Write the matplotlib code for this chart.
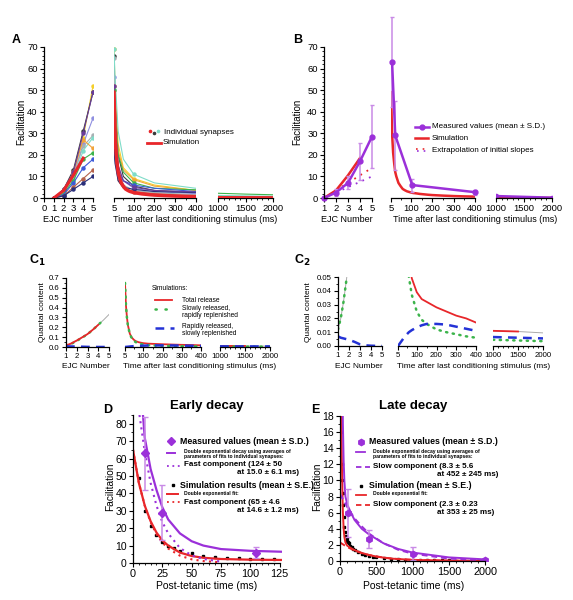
import matplotlib
matplotlib.use('Agg')
import matplotlib.pyplot as plt
from matplotlib.ticker import MultipleLocator, FixedLocator

plt.rcParams['font.family'] = ['Liberation Sans', 'DejaVu Sans']

W, H = 573, 600

# ---------------- data ----------------
# panel A: individual synapses
ejc_num = [1, 2, 3, 4, 5]
decay_t = [5, 10, 25, 50, 100, 200, 400]
late_t = [1000, 1500, 2000]
syn_colors = ['#f5cf2a', '#3a3a3a', '#8f8fe0', '#a7b0b3', '#7fdcc8', '#f2a33a',
              '#3cb44b', '#3d5bd9', '#b5634b', '#2a2f7a', '#6a3d9a']
syn_ejc = [[0, 3, 12, 28, 52], [0, 4, 13, 31, 49], [0, 2, 10, 25, 37],
           [0, 3, 11, 24, 29], [0, 2, 9, 22, 28], [0, 3, 12, 27, 23],
           [0, 2, 8, 18, 21], [0, 1.5, 7, 14, 18], [0, 1, 5, 9, 13],
           [0, 1, 4, 7, 10], [0, 4, 12, 30, 49]]
syn_decay = [[69, 52, 25, 14, 9, 6, 3.5], [66, 45, 20, 10, 5.5, 3.5, 2.5],
             [56, 38, 15, 8, 4.5, 3, 2], [65, 40, 14, 6, 3.5, 2.5, 1.5],
             [69, 56, 31, 18, 11, 7, 4.5], [52, 42, 22, 13, 8.5, 5.5, 3.5],
             [50, 40, 20, 12, 7, 4.5, 3.8], [29, 22, 12, 8, 6, 4.5, 3],
             [25, 18, 8, 4.5, 3, 2, 1], [22, 16, 8, 5, 4, 3, 2.5],
             [52, 35, 15, 8, 5, 3.5, 2.8]]
syn_late = [[0.8, 0.6, 0.5], [0.6, 0.5, 0.4], [0.5, 0.4, 0.3], [0.4, 0.3, 0.3],
            [1.2, 1.0, 0.8], [0.7, 0.5, 0.4], [2.2, 1.8, 1.5], [0.5, 0.4, 0.3],
            [0.3, 0.2, 0.2], [0.4, 0.3, 0.3], [0.4, 0.3, 0.2]]

# simulation (facilitation)
sim_ejc_x = [1, 2, 3, 4]
sim_ejc_y = [0, 3.5, 10.5, 18.5]
sim_t = [5, 10, 15, 20, 25, 30, 35, 40, 50, 60, 70, 80, 90, 100, 110, 120, 140, 160,
         180, 200, 250, 300, 350, 400, 450, 500, 600, 700, 800, 900, 1000, 1100,
         1200, 1300, 1400, 1500, 1600, 1700, 1800, 1900, 2000]
sim_y = [49, 30, 21, 16, 12, 10, 8.5, 7, 5.5, 4.2, 3.6, 3.1, 2.8, 2.5, 2.3, 2.2, 1.9,
         1.7, 1.5, 1.35, 1.1, 0.9, 0.75, 0.65, 0.55, 0.45, 0.35, 0.28, 0.22, 0.18,
         0.15, 0.12, 0.10, 0.09, 0.08, 0.07, 0.06, 0.05, 0.05, 0.04, 0.04]

# measured values (mean +- S.D.)
meas_ejc_y = [0, 2.5, 7, 17, 28.5]
meas_ejc_sd = [0, 1.5, 3, 8.5, 14.5]
meas_t = [10, 25, 105, 400, 1000, 2000]
meas_y = [63, 29, 6, 2.7, 0.9, 0.15]
meas_sd = [21, 16, 3, 1.1, 0.8, 0.1]

# extrapolation of initial slopes (panel B)
extrap_x = [2, 3, 4, 5]
extrap_sim = [3.5, 7, 10.5, 14]
extrap_meas = [2.5, 5, 7.5, 10]

# fits (panels D and E)
pfit_t = [8.5, 10, 15, 20, 25, 30, 40, 50, 60, 75, 100, 125, 150, 200, 300, 400, 600,
          800, 1000, 1500, 2000]
pfit_y = [85, 72, 54, 42, 32, 25, 17, 12.5, 10, 8, 7, 6.5, 6.0, 5.1, 4.0, 3.3, 2.2,
          1.5, 1.05, 0.45, 0.2]
pfast_t = [5.5, 10, 15, 20, 25, 30, 40, 50, 60, 75]
pfast_y = [85, 64, 46, 33, 23.5, 17, 8.6, 4.4, 2.3, 0.8]
pslow_t = [0, 100, 200, 300, 400, 600, 800, 1000, 1500, 2000]
pslow_y = [8.3, 6.7, 5.3, 4.3, 3.4, 2.2, 1.4, 0.91, 0.30, 0.10]
rfit_t = [0, 5, 10, 15, 20, 25, 30, 40, 50, 60, 75, 100, 125, 150, 200, 300, 400, 500,
          700, 1000, 1500, 2000]
rfit_y = [65, 46, 33, 24, 17.5, 13, 10, 6, 4, 3, 2.3, 1.9, 1.75, 1.6, 1.35, 1.0, 0.75,
          0.55, 0.3, 0.14, 0.05, 0.02]
rfast_t = [0, 5, 10, 15, 20, 25, 30, 40, 50, 60, 75]
rfast_y = [65, 46, 33, 23.5, 16.5, 11.8, 8.3, 4.2, 2.1, 1.1, 0.4]
rslow_t = [0, 100, 200, 300, 400, 600, 800, 1000, 1500, 2000]
rslow_y = [2.3, 1.73, 1.3, 0.98, 0.74, 0.42, 0.24, 0.14, 0.03, 0.008]

# panel C: quantal content
qc_ejc = [1, 1.25, 1.5, 1.75, 2, 2.5, 3, 3.5, 4, 4.5, 5]
qc_total_ejc = [0.019, 0.026, 0.037, 0.052, 0.066, 0.098, 0.131, 0.176, 0.225, 0.275, 0.33]
qc_slow_ejc = [0.012, 0.02, 0.032, 0.047, 0.062, 0.095, 0.13, 0.175, 0.225, 0.275, 0.33]
qc_rapid_ejc = [0.007, 0.006, 0.0055, 0.005, 0.0045, 0.003, 0.0012, 0.0005, 0.0002, 0.0001, 0.0]
qc_t = [5, 10, 15, 20, 30, 40, 50, 60, 75, 100, 125, 150, 200, 250, 300, 350, 400]
qc_total = [0.65, 0.421, 0.302, 0.223, 0.135, 0.097, 0.075, 0.06, 0.049, 0.039, 0.034,
            0.032, 0.028, 0.025, 0.022, 0.020, 0.017]
qc_slow = [0.65, 0.42, 0.30, 0.22, 0.13, 0.09, 0.066, 0.05, 0.037, 0.025, 0.019, 0.016,
           0.012, 0.010, 0.0085, 0.007, 0.006]
qc_rapid = [0.0, 0.001, 0.002, 0.003, 0.005, 0.007, 0.0085, 0.010, 0.0115, 0.0135, 0.015,
            0.016, 0.016, 0.0155, 0.014, 0.0125, 0.011]
qc_late_t = [1000, 1500, 2000]
qc_total_late = [0.011, 0.0105, 0.0095]
qc_slow_late = [0.0045, 0.004, 0.0035]
qc_rapid_late = [0.0065, 0.006, 0.0055]

RED = '#e8262a'
PURPLE = '#9b30d9'
PURPLE_ERR = '#c98ae6'
GREEN = '#3cb44b'
BLUE = '#2432d6'

fig = plt.figure(figsize=(W / 100, H / 100), dpi=100)


def add_ax(l, t, r, b):
    return fig.add_axes([l / W, 1 - b / H, (r - l) / W, (b - t) / H])


def style(ax, xlim, ylim, ysize=6.5, xsize=6.5, left=True):
    ax.set_xlim(*xlim)
    ax.set_ylim(*ylim)
    ax.patch.set_alpha(0)
    for s in ['top', 'right']:
        ax.spines[s].set_visible(False)
    ax.spines['bottom'].set_linewidth(0.9)
    ax.tick_params(which='major', length=3, width=0.8, labelsize=xsize, pad=1.5)
    ax.tick_params(which='minor', length=1.6, width=0.6)
    ax.tick_params(axis='y', labelsize=ysize)
    if not left:
        ax.spines['left'].set_visible(False)
        ax.set_yticks([])
    else:
        ax.spines['left'].set_linewidth(0.9)


def segs(lefts, top, bottom, ylim, ymaj, ymin, fs):
    a1 = add_ax(lefts[0][0], top, lefts[0][1], bottom)
    a2 = add_ax(lefts[1][0], top, lefts[1][1], bottom)
    a3 = add_ax(lefts[2][0], top, lefts[2][1], bottom)
    style(a1, (lefts[0][2], 5), ylim, fs, fs)
    a1.set_xticks(range(lefts[0][2], 6))
    a1.yaxis.set_major_locator(MultipleLocator(ymaj))
    a1.yaxis.set_minor_locator(MultipleLocator(ymin))
    style(a2, (5, 400), ylim, fs, fs, left=False)
    a2.set_xticks([5, 100, 200, 300, 400])
    a2.xaxis.set_minor_locator(FixedLocator([50, 150, 250, 350]))
    style(a3, (1000, 2000), ylim, fs, fs, left=False)
    a3.set_xticks([1000, 1500, 2000])
    a3.xaxis.set_minor_locator(MultipleLocator(100))
    return a1, a2, a3


def unclip(container):
    # error bars may run past the top of the axes, as in the original figure
    for art in container.get_children():
        art.set_clip_on(False)


ov = fig.add_axes([0, 0, 1, 1])
ov.set_xlim(0, W)
ov.set_ylim(H, 0)
ov.axis('off')
ov.set_zorder(20)

# ---------------- panel A ----------------
a1, a2, a3 = segs([(44, 93, 0), (114, 196), (218, 273)], 47, 198, (0, 70), 10, 2, 6.8)
for c, e, d, l in zip(syn_colors, syn_ejc, syn_decay, syn_late):
    a1.plot(ejc_num, e, color=c, lw=0.8, marker='o', ms=2.2)
    a2.plot(decay_t, d, color=c, lw=0.8, marker='o', ms=2.2, markevery=[0, 4])
    a3.plot(late_t, l, color=c, lw=0.8)
a1.plot(sim_ejc_x, sim_ejc_y, color=RED, lw=2.2, zorder=5)
a2.plot(sim_t, sim_y, color=RED, lw=2.5, zorder=5)
a3.plot(sim_t, sim_y, color=RED, lw=2.5, zorder=5)

# ---------------- panel B ----------------
b1, b2, b3 = segs([(324, 372, 1), (391, 475), (496, 552)], 47, 198, (0, 70), 10, 2, 6.8)
b1.plot(extrap_x, extrap_sim, color=RED, lw=1.3, ls=(0, (1, 3)))
b1.plot(extrap_x, extrap_meas, color=PURPLE, lw=1.3, ls=(0, (1, 3)))
b1.plot(sim_ejc_x, sim_ejc_y, color=RED, lw=1.8)
eb = b1.errorbar(ejc_num, meas_ejc_y, yerr=meas_ejc_sd, color=PURPLE, ecolor=PURPLE_ERR,
                 elinewidth=1.1, capsize=1.5, lw=1.8, marker='o', ms=3.5)
unclip(eb)
b2.plot(sim_t, sim_y, color=RED, lw=1.8)
eb = b2.errorbar(meas_t[:4], meas_y[:4], yerr=meas_sd[:4], color=PURPLE, ecolor=PURPLE_ERR,
                 elinewidth=1.1, capsize=1.5, lw=1.8, marker='o', ms=3.5)
unclip(eb)
b3.plot(sim_t, sim_y, color=RED, lw=1.8)
b3.plot(meas_t[4:], meas_y[4:], color=PURPLE, lw=1.8, marker='o', ms=3)


# ---------------- panel C1 / C2 ----------------
def c_panel(axs, full):
    c1, c2, c3 = axs
    dot = (0, (0.5, 2.2))
    dash = (0, (3.5, 2.5))
    if full:
        c1.plot(qc_ejc, qc_slow_ejc, color='#aaaaaa', lw=0.7)
        c1.plot(qc_ejc[:10], qc_slow_ejc[:10], color=GREEN, lw=1.8, ls=dot, dash_capstyle='round')
        c1.plot(qc_ejc[:9], qc_total_ejc[:9], color=RED, lw=1.3)
    else:
        c1.plot(qc_ejc[:5], qc_slow_ejc[:5], color='#aaaaaa', lw=0.7)
        c1.plot(qc_ejc[:4], qc_slow_ejc[:4], color=GREEN, lw=1.8, ls=dot, dash_capstyle='round')
    c1.plot(qc_ejc, qc_rapid_ejc, color=BLUE, lw=1.8, ls=dash)
    c2.plot(qc_t, qc_total, color=RED, lw=1.3)
    c2.plot(qc_t, qc_slow, color=GREEN, lw=1.8, ls=dot, dash_capstyle='round')
    c2.plot(qc_t, qc_rapid, color=BLUE, lw=1.8, ls=dash)
    c3.plot(qc_late_t, qc_total_late, color='#aaaaaa', lw=0.7)
    c3.plot(qc_late_t[:2], qc_total_late[:2], color=RED, lw=1.3)
    c3.plot(qc_late_t, qc_slow_late, color=GREEN, lw=1.8, ls=dot, dash_capstyle='round')
    c3.plot(qc_late_t, qc_rapid_late, color=BLUE, lw=1.8, ls=dash)


cA = segs([(66, 109, 1), (125, 201), (220, 270)], 278, 347, (0, 0.7), 0.1, 0.05, 5.6)
cA[0].yaxis.set_major_formatter(plt.FormatStrFormatter('%.1f'))
c_panel(cA, True)
cB = segs([(338, 382, 1), (398, 476), (493, 543)], 277, 346, (0, 0.05), 0.01, 0.005, 5.6)
cB[0].yaxis.set_major_formatter(plt.FormatStrFormatter('%.2f'))
c_panel(cB, False)

# ---------------- panel D ----------------
d = add_ax(133, 415, 282, 563)
style(d, (0, 127), (0, 85), 7.5, 7.8)
d.spines['bottom'].set_bounds(0, 125)
d.set_xticks([0, 25, 50, 75, 100, 125])
d.xaxis.set_minor_locator(MultipleLocator(5))
d.yaxis.set_major_locator(FixedLocator([0, 10, 20, 30, 40, 50, 60, 70, 80]))
d.yaxis.set_minor_locator(MultipleLocator(5))
d.plot(sim_t, sim_y, 's', color='black', ms=2)
d.plot(rfast_t, rfast_y, color=RED, lw=1.5, ls=(0, (1, 2)))
d.plot(rfit_t, rfit_y, color=RED, lw=1.6)
d.plot(pfast_t, pfast_y, color=PURPLE, lw=1.5, ls=(0, (1, 2)))
d.plot(pfit_t, pfit_y, color=PURPLE, lw=1.6)
d.errorbar(meas_t[:3], meas_y[:3], yerr=meas_sd[:3], fmt='D', color=PURPLE,
           ecolor=PURPLE_ERR, elinewidth=1.1, capsize=2, ms=4.5)

# ---------------- panel E ----------------
e = add_ax(340, 416, 488, 561)
style(e, (0, 2040), (0, 18), 7.5, 7.8)
e.spines['bottom'].set_bounds(0, 2000)
e.set_xticks([0, 500, 1000, 1500, 2000])
e.xaxis.set_minor_locator(MultipleLocator(100))
e.yaxis.set_major_locator(MultipleLocator(2))
e.yaxis.set_minor_locator(MultipleLocator(1))
e.plot(sim_t, sim_y, 's', color='black', ms=2)
e.plot(rslow_t, rslow_y, color=RED, lw=1.4, ls=(0, (3, 2)))
e.plot(rfit_t, rfit_y, color=RED, lw=1.4)
e.plot(pslow_t, pslow_y, color=PURPLE, lw=1.4, ls=(0, (3, 2)))
e.plot(pfit_t, pfit_y, color=PURPLE, lw=1.4)
e.errorbar(meas_t[2:], meas_y[2:], yerr=meas_sd[2:], fmt='h', color=PURPLE,
           ecolor=PURPLE_ERR, elinewidth=1.1, capsize=2, ms=4.5)


# ---------------- text and legends ----------------
def T(x, y, s, size=6.5, **kw):
    kw.setdefault('va', 'center')
    ov.text(x, y, s, fontsize=size, **kw)


def L(x0, x1, y, **kw):
    ov.plot([x0, x1], [y, y], **kw)


# panel letters
T(16, 40, 'A', 9, fontweight='bold', ha='center')
T(298, 40, 'B', 9, fontweight='bold', ha='center')
T(37, 260, r'C$_\mathbf{1}$', 9, fontweight='bold', ha='center')
T(302, 260, r'C$_\mathbf{2}$', 9, fontweight='bold', ha='center')
T(108, 410, 'D', 9, fontweight='bold', ha='center')
T(315, 410, 'E', 9, fontweight='bold', ha='center')

# axis labels
T(21, 122, 'Facilitation', 7, rotation=90, ha='center')
T(297, 122, 'Facilitation', 7, rotation=90, ha='center')
T(42, 312, 'Quantal content', 6, rotation=90, ha='center')
T(309, 312, 'Quantal content', 6, rotation=90, ha='center')
T(110, 487, 'Facilitation', 7.3, rotation=90, ha='center')
T(317, 487, 'Facilitation', 7.3, rotation=90, ha='center')
T(68, 220, 'EJC number', 6.5, ha='center')
T(195, 220, 'Time after last conditioning stimulus (ms)', 6.5, ha='center')
T(347, 220, 'EJC Number', 6.5, ha='center')
T(475, 220, 'Time after last conditioning stimulus (ms)', 6.5, ha='center')
T(86, 366, 'EJC Number', 6, ha='center')
T(200, 366, 'Time after last conditioning stimulus (ms)', 6, ha='center')
T(359, 366, 'EJC Number', 6, ha='center')
T(474, 366, 'Time after last conditioning stimulus (ms)', 6, ha='center')
T(207, 586, 'Post-tetanic time (ms)', 7.5, ha='center')
T(414, 586, 'Post-tetanic time (ms)', 7.5, ha='center')
T(207, 406, 'Early decay', 9.5, fontweight='bold', ha='center')
T(413, 406, 'Late decay', 9.5, fontweight='bold', ha='center')

# legend A
for dx, dy, c in [(0, -1, RED), (4, 1, '#3a3a3a'), (8, -1, '#7fdcc8')]:
    ov.plot(150 + dx, 132 + dy, 'o', color=c, ms=1.6)
T(164, 132.5, 'Individual synapses', 5.8)
L(147, 161, 143, color=RED, lw=2)
T(163, 143, 'Simulation', 5.8)

# legend B
L(415, 429, 127, color=PURPLE, lw=1.8)
ov.plot(422, 127, 'o', color=PURPLE, ms=3.5)
T(432, 127, 'Measured values (mean \u00b1 S.D.)', 5.8)
L(415, 428, 138, color=RED, lw=1.8)
T(432, 138, 'Simulation', 5.8)
L(416, 428, 149, color=RED, lw=1.2, ls=(0, (1, 3)))
L(417, 429, 151, color=PURPLE, lw=1.2, ls=(0, (1, 3)))
T(432, 150, 'Extrapolation of initial slopes', 5.8)

# legend C
T(170, 289, 'Simulations:', 4.8, ha='center')
L(155, 172, 300, color=RED, lw=1.3)
T(182, 300, 'Total release', 4.8)
L(155, 174, 309, color=GREEN, lw=1.8, ls=(0, (0.5, 3.5)), dash_capstyle='round')
T(182, 312, 'Slowly released,\nrapidly replenished', 4.8, linespacing=1.1)
L(155, 174, 328, color=BLUE, lw=1.8, ls=(0, (3.5, 2.5)))
T(182, 330, 'Rapidly released,\nslowly replenished', 4.8, linespacing=1.1)

# legend D
ov.plot(171, 441, 'D', color=PURPLE, ms=4)
T(180, 441, 'Measured values (mean \u00b1 S.D.)', 6.3, fontweight='bold')
L(167, 175, 453, color=PURPLE, lw=1.4)
T(184, 454, 'Double exponential decay using averages of\nparameters of fits to individual synapses:',
  3.6, fontweight='bold', linespacing=1.2)
L(167, 180, 466, color=PURPLE, lw=1.3, ls=(0, (1, 2)))
T(184, 465, 'Fast component (124 \u00b1 50', 5.8, fontweight='bold')
T(237, 473, 'at 15.0 \u00b1 6.1 ms)', 5.8, fontweight='bold')
ov.plot(173, 485, 's', color='black', ms=2)
T(180, 485, 'Simulation results (mean \u00b1 S.E.)', 6.3, fontweight='bold')
L(167, 178, 494, color=RED, lw=1.4)
T(184, 494, 'Double exponential fit:', 3.6, fontweight='bold')
L(167, 180, 502, color=RED, lw=1.3, ls=(0, (1, 2)))
T(184, 502, 'Fast component (65 \u00b1 4.6', 5.8, fontweight='bold')
T(237, 510, 'at 14.6 \u00b1 1.2 ms)', 5.8, fontweight='bold')

# legend E
ov.plot(361, 442, 'h', color=PURPLE, ms=4.5)
T(369, 442, 'Measured values (mean \u00b1 S.D.)', 6.3, fontweight='bold')
L(356, 365, 452, color=PURPLE, lw=1.3)
T(373, 454, 'Double exponential decay using averages of\nparameters of fits to individual synapses:',
  3.6, fontweight='bold', linespacing=1.2)
L(356, 370, 467, color=PURPLE, lw=1.3, ls=(0, (3, 2)))
T(373, 466, 'Slow component (8.3 \u00b1 5.6', 5.8, fontweight='bold')
T(437, 475, 'at 452 \u00b1 245 ms)', 5.8, fontweight='bold')
ov.plot(361, 486, 's', color='black', ms=2)
T(369, 486, 'Simulation (mean \u00b1 S.E.)', 6.3, fontweight='bold')
L(356, 366, 495, color=RED, lw=1.3)
T(373, 494, 'Double exponential fit:', 3.6, fontweight='bold')
L(356, 370, 505, color=RED, lw=1.3, ls=(0, (3, 2)))
T(373, 505, 'Slow component (2.3 \u00b1 0.23', 5.8, fontweight='bold')
T(437, 513, 'at 353 \u00b1 25 ms)', 5.8, fontweight='bold')

fig.savefig('out.png', dpi=100)
